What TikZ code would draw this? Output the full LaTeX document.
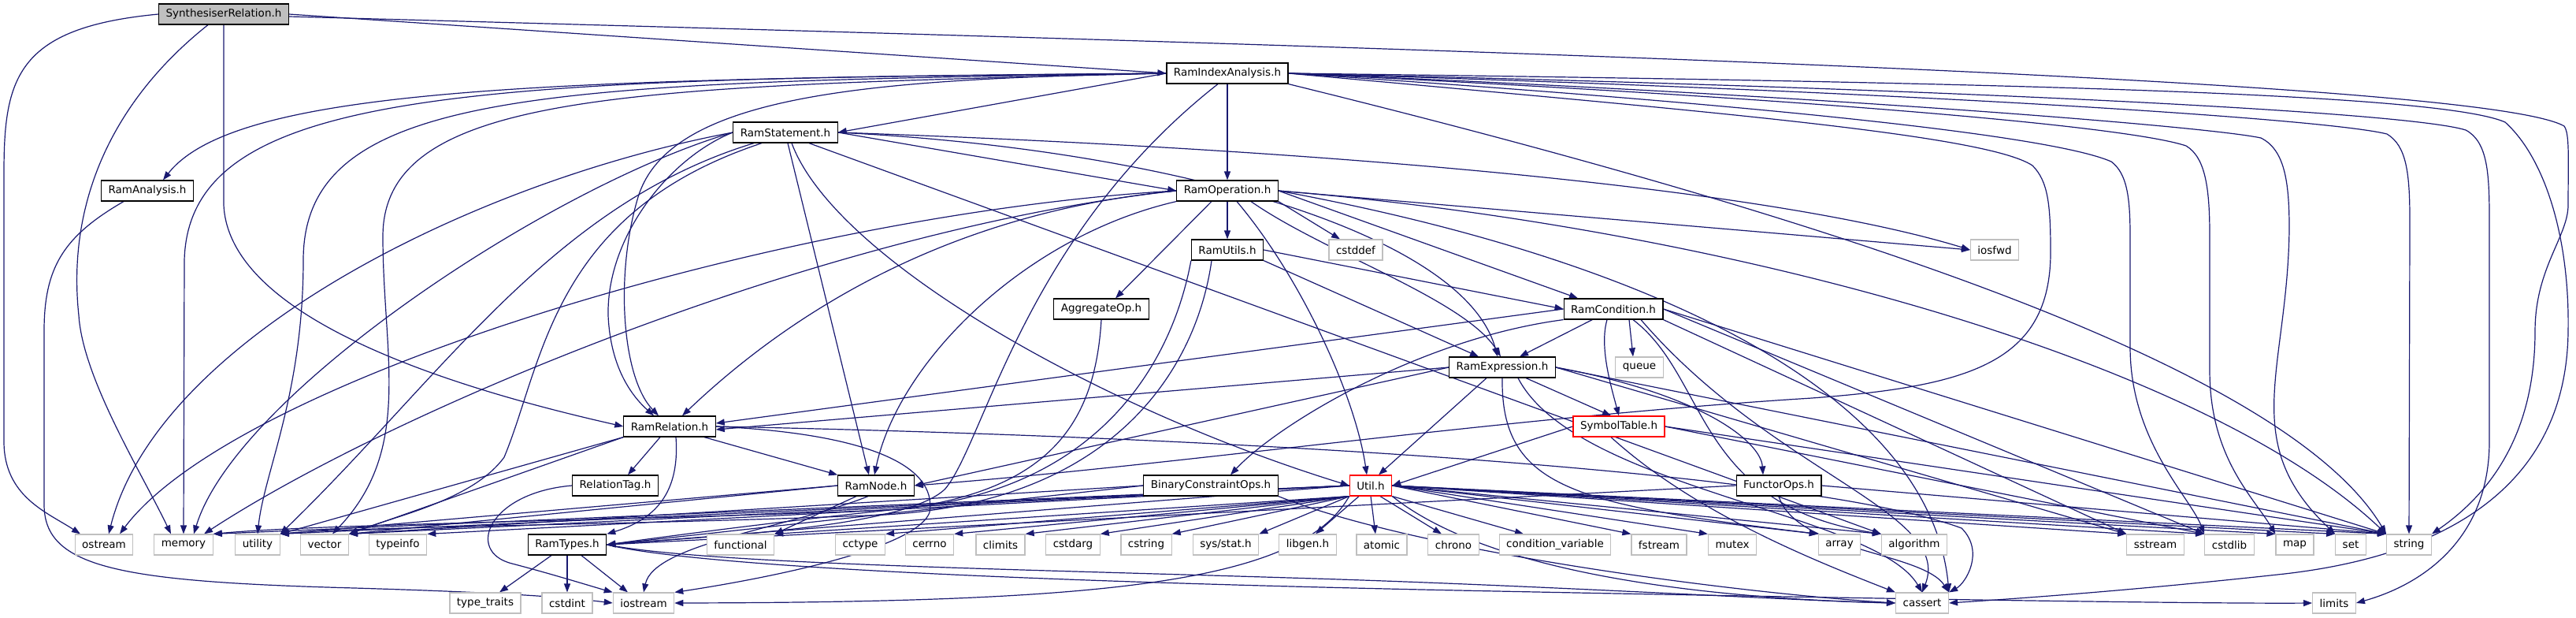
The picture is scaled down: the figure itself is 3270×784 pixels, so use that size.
\documentclass[tikz,border=0pt]{standalone}
\usepackage{fontspec}
\setmainfont{DejaVu Sans}
\usetikzlibrary{arrows.meta}
\pgfdeclarelayer{bg}
\pgfsetlayers{bg,main}
\definecolor{edgeblue}{RGB}{25,25,112}
\definecolor{sysgray}{RGB}{191,191,191}

\begin{document}
\begin{tikzpicture}[x=1pt,y=-1pt,>={Triangle[length=11pt,width=8pt]}]
  \tikzstyle{hdr}=[draw=black,fill=white,line width=1.2pt,minimum height=26pt,inner xsep=9pt,inner ysep=2pt,font=\fontsize{13.5}{16}\selectfont]
  \tikzstyle{sys}=[hdr,draw=sysgray]
  \tikzstyle{trunc}=[hdr,draw=red]
  \tikzstyle{dep}=[draw=edgeblue,line width=1.2pt,->]
  \useasboundingbox (0,0) rectangle (3270,784);

  \node[hdr,fill=sysgray] (synth) at (284,18) {SynthesiserRelation.h};
  \node[hdr] (analysis) at (187,242) {RamAnalysis.h};
  \node[hdr] (idxan) at (1558,93) {RamIndexAnalysis.h};
  \node[hdr] (stmt) at (997,168) {RamStatement.h};
  \node[hdr] (oper) at (1558,242) {RamOperation.h};
  \node[hdr] (utils) at (1558,317) {RamUtils.h};
  \node[hdr] (aggop) at (1398,392) {AggregateOp.h};
  \node[sys] (cstddef) at (1721,317) {cstddef};
  \node[sys] (iosfwd) at (2532,317) {iosfwd};
  \node[hdr] (cond) at (2048,392) {RamCondition.h};
  \node[sys] (queue) at (2081,466) {queue};
  \node[hdr] (expr) at (1907,466) {RamExpression.h};
  \node[hdr] (rel) at (850,541) {RamRelation.h};
  \node[trunc] (symtab) at (2055,541) {SymbolTable.h};
  \node[hdr] (reltag) at (781,616) {RelationTag.h};
  \node[hdr] (ramnode) at (1112,616) {RamNode.h};
  \node[hdr] (binops) at (1537,616) {BinaryConstraintOps.h};
  \node[trunc] (util) at (1740,616) {Util.h};
  \node[hdr] (functor) at (2258,616) {FunctorOps.h};

  \node[sys] (ostream) at (132,691) {ostream};
  \node[sys] (memory) at (233,691) {memory};
  \node[sys] (utility) at (327,691) {utility};
  \node[sys] (vector) at (412,691) {vector};
  \node[sys] (typeinfo) at (505,691) {typeinfo};
  \node[hdr] (ramtypes) at (720,691) {RamTypes.h};
  \node[sys] (functional) at (940,691) {functional};
  \node[sys] (cctype) at (1092,691) {cctype};
  \node[sys] (cerrno) at (1180,691) {cerrno};
  \node[sys] (climits) at (1270,691) {climits};
  \node[sys] (cstdarg) at (1362,691) {cstdarg};
  \node[sys] (cstring) at (1455,691) {cstring};
  \node[sys] (sysstat) at (1556,691) {sys/stat.h};
  \node[sys] (libgen) at (1660,691) {libgen.h};
  \node[sys] (atomic) at (1754,691) {atomic};
  \node[sys] (chrono) at (1845,691) {chrono};
  \node[sys] (condvar) at (1974,691) {condition\_variable};
  \node[sys] (fstream) at (2106,691) {fstream};
  \node[sys] (mutex) at (2199,691) {mutex};
  \node[sys] (array) at (2335,691) {array};
  \node[sys] (algorithm) at (2430,691) {algorithm};
  \node[sys] (sstream) at (2736,691) {sstream};
  \node[sys] (cstdlib) at (2830,691) {cstdlib};
  \node[sys] (map) at (2913,691) {map};
  \node[sys] (set) at (2984,691) {set};
  \node[sys] (string) at (3058,691) {string};
  \node[sys] (typetraits) at (616,765) {type\_traits};
  \node[sys] (cstdint) at (720,765) {cstdint};
  \node[sys] (iostream) at (817,765) {iostream};
  \node[sys] (cassert) at (2440,765) {cassert};
  \node[sys] (limits) at (2963,765) {limits};

  \begin{pgfonlayer}{bg}
  \draw[dep] (synth.east) -- (idxan.west);
  \draw[dep] (synth.south) -- (284,260) .. controls (290,390) and (520,480) .. (rel.west);
  \draw[dep] (synth.west) .. controls (20,35) and (5,100) .. (5,220) -- (5,560) .. controls (5,630) and (60,650) .. ([xshift=-30pt]ostream.north);
  \draw[dep] ([xshift=-20pt]synth.south) .. controls (140,130) and (85,260) .. (100,400) .. controls (105,480) and (180,600) .. ([xshift=-16pt]memory.north);
  \draw[dep] ([yshift=-3pt]synth.east) .. controls (1800,60) and (3150,100) .. (3255,160) .. controls (3262,170) and (3260,200) .. (3260,260) .. controls (3260,300) and (3218,340) .. (3218,420) .. controls (3218,540) and (3170,620) .. (string.north east);
  \draw[dep] ([xshift=-30pt]analysis.south) .. controls (80,300) and (56,340) .. (56,420) -- (56,640) .. controls (56,720) and (150,738) .. (450,746) .. controls (650,752) and (720,758) .. (iostream.west);

  \draw[dep] (idxan.west) .. controls (700,100) and (300,110) .. ([xshift=20pt]analysis.north);
  \draw[dep] (idxan.west) -- (stmt.east);
  \draw[dep] (idxan) -- (oper);
  \draw[dep] (idxan.west) .. controls (1100,100) and (850,120) .. (810,250) .. controls (780,350) and (790,480) .. ([xshift=-14pt]rel.north);
  \draw[dep] (idxan.west) .. controls (600,100) and (240,110) .. (234,330) -- (memory.north);
  \draw[dep] (idxan.west) .. controls (700,105) and (385,110) .. (385,330) .. controls (385,500) and (335,600) .. (utility.north);
  \draw[dep] (idxan.west) .. controls (800,110) and (486,115) .. (486,300) .. controls (486,450) and (525,570) .. ([xshift=10pt]vector.north);
  \draw[dep] ([xshift=-12pt]idxan.south) .. controls (1300,300) and (1250,560) .. (1200,620) .. controls (1150,670) and (900,680) .. (ramtypes.east);
  \draw[dep] (idxan.east) .. controls (2150,140) and (2520,170) .. (2580,210) .. controls (2600,230) and (2603,260) .. (2603,320) .. controls (2603,460) and (2500,490) .. (2300,505) .. controls (1900,530) and (1500,590) .. (ramnode.east);
  \draw[dep] (idxan.east) .. controls (2200,130) and (2600,170) .. (2680,205) .. controls (2700,220) and (2704,250) .. (2704,300) -- (2704,440) .. controls (2704,560) and (2780,630) .. (cstdlib.north west);
  \draw[dep] (idxan.east) .. controls (2300,125) and (2700,160) .. (2775,185) .. controls (2800,200) and (2805,240) .. (2805,300) -- (2805,470) .. controls (2805,580) and (2860,630) .. (map.north west);
  \draw[dep] (idxan.east) .. controls (2300,120) and (2800,160) .. (2870,175) .. controls (2900,190) and (2906,230) .. (2906,290) .. controls (2904,470) and (2840,560) .. (set.north west);
  \draw[dep] (idxan.east) .. controls (2400,115) and (2950,150) .. (3030,170) .. controls (3055,185) and (3059,220) .. (3059,280) -- (string.north);
  \draw[dep] (idxan.south east) .. controls (2300,270) and (2900,460) .. (string.north west);
  \draw[dep] (idxan.east) .. controls (2400,110) and (3050,140) .. (3130,165) .. controls (3158,180) and (3160,220) .. (3160,280) -- (3160,560) .. controls (3160,680) and (3080,740) .. (limits.east);
  \draw[dep] (idxan.east) .. controls (2600,105) and (3100,120) .. (3180,155) .. controls (3230,200) and (3262,300) .. (3260,420) .. controls (3258,620) and (3100,705) .. (2900,728) .. controls (2700,750) and (2550,760) .. (cassert.east);

  \draw[dep] (stmt.east) -- (oper.west);
  \draw[dep] (stmt.west) .. controls (850,200) and (770,300) .. (772,400) .. controls (775,470) and (805,505) .. ([xshift=-20pt]rel.north);
  \draw[dep] ([xshift=3pt]stmt.south) -- ([xshift=-9pt]ramnode.north);
  \draw[dep] ([xshift=8pt]stmt.south) .. controls (1060,330) and (1400,520) .. (util.west);
  \draw[dep] (stmt.east) .. controls (1500,190) and (1860,300) .. ([xshift=-6pt]expr.north);
  \draw[dep] (stmt.east) .. controls (1700,190) and (2250,240) .. (iosfwd.west);
  \draw[dep] ([xshift=30pt]stmt.south) -- (algorithm.north west);
  \draw[dep] (stmt.west) .. controls (600,230) and (200,430) .. ([xshift=6pt]ostream.north);
  \draw[dep] (stmt.west) .. controls (700,235) and (300,500) .. ([xshift=13pt]memory.north);
  \draw[dep] ([xshift=-40pt]stmt.south) .. controls (700,260) and (560,480) .. (utility.north east);
  \draw[dep] ([xshift=-30pt]stmt.south) .. controls (700,270) and (690,460) .. (640,580) .. controls (600,635) and (500,655) .. (vector.north east);

  \draw[dep] (oper) -- (utils);
  \draw[dep] ([xshift=-20pt]oper.south) -- ([xshift=18pt]aggop.north);
  \draw[dep] (oper.south east) -- ([xshift=-20pt]cstddef.north);
  \draw[dep] (oper.east) -- ([xshift=-45pt]cond.north);
  \draw[dep] ([xshift=30pt]oper.south) .. controls (1680,320) and (1860,380) .. ([xshift=-2pt]expr.north);
  \draw[dep] (oper.south west) .. controls (1300,300) and (1140,460) .. ([xshift=-2pt]ramnode.north);
  \draw[dep] ([xshift=12pt]oper.south) .. controls (1650,350) and (1720,500) .. ([xshift=-5pt]util.north);
  \draw[dep] (oper.east) -- (iosfwd.west);
  \draw[dep] (oper.east) .. controls (2200,290) and (2800,460) .. (string.north west);
  \draw[dep] (oper.east) .. controls (2100,330) and (2450,500) .. (cassert.north east);
  \draw[dep] (oper.west) .. controls (1200,270) and (1000,400) .. ([xshift=16pt]rel.north);
  \draw[dep] (oper.west) .. controls (1000,270) and (300,480) .. ([xshift=20pt]ostream.north);
  \draw[dep] (oper.west) .. controls (1050,290) and (500,520) .. ([xshift=26pt]memory.north);

  \draw[dep] (utils.east) -- (cond.west);
  \draw[dep] (utils.south east) -- ([xshift=-30pt]expr.north);
  \draw[dep] (utils.south west) .. controls (1490,450) and (1400,640) .. (1100,648) .. controls (800,660) and (400,665) .. (memory.north east);
  \draw[dep] ([xshift=-20pt]utils.south) .. controls (1520,460) and (1420,645) .. (1100,654) .. controls (800,666) and (450,668) .. (utility.north east);
  \draw[dep] (aggop.south) .. controls (1390,540) and (1330,620) .. (1150,645) .. controls (1000,660) and (850,680) .. (ramtypes.east);

  \draw[dep] (cond) -- ([xshift=22pt]expr.north);
  \draw[dep] ([xshift=20pt]cond.south) -- ([xshift=-8pt]queue.north);
  \draw[dep] ([xshift=-8pt]cond.south) .. controls (2030,440) and (2045,490) .. (symtab.north);
  \draw[dep] (cond.south west) .. controls (1800,430) and (1620,540) .. ([xshift=25pt]binops.north);
  \draw[dep] (cond.west) -- ([yshift=4pt]rel.east);
  \draw[dep] ([xshift=25pt]cond.south) .. controls (2170,480) and (2150,640) .. (algorithm.north west);
  \draw[dep] (cond.south east) -- (sstream.north west);
  \draw[dep] (cond.east) -- (cstdlib.north west);
  \draw[dep] (cond.east) -- (string.north west);
  \draw[dep] ([xshift=35pt]cond.south) .. controls (2250,600) and (2480,650) .. (cassert.north);

  \draw[dep] (expr.west) -- ([yshift=-4pt]rel.east);
  \draw[dep] (expr.west) -- (ramnode.east);
  \draw[dep] ([xshift=30pt]expr.south) -- ([xshift=-10pt]symtab.north);
  \draw[dep] (expr.east) .. controls (2160,500) and (2235,560) .. ([xshift=-20pt]functor.north);
  \draw[dep] ([xshift=-20pt]expr.south) -- ([xshift=10pt]util.north);
  \draw[dep] (expr.south) .. controls (1905,620) and (2000,640) .. (array.north west);
  \draw[dep] (expr.east) -- (sstream.north west);
  \draw[dep] (expr.east) -- (string.north west);
  \draw[dep] ([xshift=20pt]expr.south) .. controls (2000,620) and (2380,650) .. (cassert.north);

  \draw[dep] (symtab.west) -- (util.east);
  \draw[dep] ([xshift=-10pt]symtab.south) .. controls (2150,650) and (2300,710) .. (cassert.north west);
  \draw[dep] (symtab.east) -- (string.north west);
  \draw[dep] (symtab.east) -- (cstdlib.north west);

  \draw[dep] ([xshift=-12pt]rel.south) -- ([xshift=16pt]reltag.north);
  \draw[dep] ([xshift=44pt]rel.south) -- (ramnode.north west);
  \draw[dep] ([xshift=8pt]rel.south) .. controls (862,610) and (845,655) .. (ramtypes.north east);
  \draw[dep] (rel.east) .. controls (1100,550) and (1190,590) .. (1180,650) .. controls (1160,705) and (900,745) .. (iostream.north east);
  \draw[dep] (rel.south west) -- (utility.north east);
  \draw[dep] (rel.south west) -- (vector.north east);
  \draw[dep] (rel.east) .. controls (1600,555) and (2300,600) .. (2490,670) .. controls (2520,700) and (2495,740) .. (cassert.north east);
  \draw[dep] (reltag.west) .. controls (620,625) and (590,700) .. (650,715) .. controls (700,728) and (755,745) .. (iostream.north west);

  \draw[dep] ([xshift=-25pt]ramnode.south) -- (functional.north east);
  \draw[dep] (ramnode.west) -- (utility.north east);
  \draw[dep] (ramnode.west) -- (vector.north east);
  \draw[dep] ([xshift=-10pt]ramnode.south) .. controls (1000,670) and (830,690) .. (iostream.north);

  \draw[dep] (binops.west) -- (ramtypes.east);
  \draw[dep] (binops.west) -- (vector.north east);
  \draw[dep] (binops.south east) .. controls (1800,700) and (2200,752) .. (cassert.west);

  \draw[dep] (util.west) -- (ramtypes.east);
  \draw[dep] (util.west) -- (memory.north east);
  \draw[dep] (util.west) -- (utility.north east);
  \draw[dep] (util.west) -- (vector.north east);
  \draw[dep] (util.west) -- (typeinfo.north east);
  \draw[dep] (util.south west) -- (functional.north east);
  \draw[dep] (util.south west) -- (cctype.north east);
  \draw[dep] (util.south west) -- (cerrno.north east);
  \draw[dep] (util.south west) -- (climits.north east);
  \draw[dep] (util.south west) -- (cstdarg.north east);
  \draw[dep] (util.south west) -- (cstring.north east);
  \draw[dep] (util.south west) -- (sysstat.north east);
  \draw[dep] ([xshift=-15pt]util.south) -- ([xshift=10pt]libgen.north);
  \draw[dep] (util.south) -- ([xshift=-8pt]atomic.north);
  \draw[dep] ([xshift=12pt]util.south) -- ([xshift=-15pt]chrono.north);
  \draw[dep] (util.south east) -- ([xshift=-40pt]condvar.north);
  \draw[dep] (util.east) -- (fstream.north west);
  \draw[dep] (util.east) -- (mutex.north west);
  \draw[dep] (util.east) -- (array.north west);
  \draw[dep] (util.east) -- (algorithm.north west);
  \draw[dep] (util.east) -- (sstream.north west);
  \draw[dep] (util.east) -- (cstdlib.north west);
  \draw[dep] (util.east) -- (map.north west);
  \draw[dep] (util.east) -- (set.north west);
  \draw[dep] (util.east) -- (string.north west);
  \draw[dep] (util.south west) .. controls (1650,740) and (1400,764) .. (iostream.east);
  \draw[dep] (util.south east) .. controls (1900,735) and (2200,760) .. (cassert.west);

  \draw[dep] (functor.west) -- (ramtypes.east);
  \draw[dep] (functor.south) .. controls (2280,700) and (2440,700) .. (cassert.north east);
  \draw[dep] (functor.east) -- (string.north west);

  \draw[dep] ([xshift=-20pt]ramtypes.south) -- ([xshift=18pt]typetraits.north);
  \draw[dep] (ramtypes.south) -- (cstdint.north);
  \draw[dep] ([xshift=18pt]ramtypes.south) -- ([xshift=-20pt]iostream.north);
  \draw[dep] (ramtypes.east) .. controls (900,716) and (1300,722) .. (1700,735) .. controls (2000,745) and (2300,763) .. (cassert.west);
  \draw[dep] (ramtypes.east) .. controls (900,722) and (1400,740) .. (1900,750) .. controls (2400,760) and (2800,766) .. (limits.west);
  \end{pgfonlayer}
\end{tikzpicture}
\end{document}
